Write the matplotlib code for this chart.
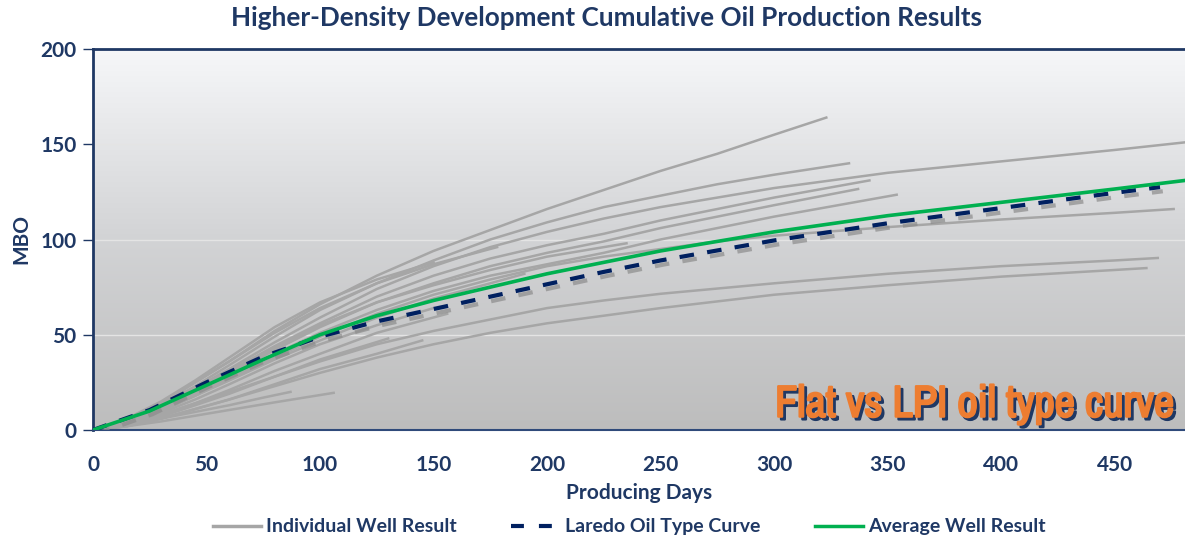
import numpy as np
import matplotlib
matplotlib.use("Agg")
import matplotlib.pyplot as plt
import matplotlib.patheffects as pe
from matplotlib.lines import Line2D
from matplotlib import font_manager

plt.rcParams['font.family'] = ['Lato', 'DejaVu Sans']

# ---- data (producing days -> cumulative MBO) ----
well_days = [
    [0, 15, 30, 45, 60, 80, 100, 125, 150, 175, 200, 225, 250, 275, 300, 323],
    [0, 15, 30, 45, 60, 80, 100, 125, 150, 175, 200, 225, 250, 275, 300, 333],
    [0, 15, 30, 45, 60, 80, 100, 125, 150, 175, 200, 225, 250, 275, 300, 350, 400, 450, 481],
    [0, 15, 30, 45, 60, 80, 100, 125, 150, 175, 200, 225, 250, 275, 300, 342],
    [0, 15, 30, 45, 60, 80, 100, 125, 150, 175, 200, 225, 250, 275, 300, 337],
    [0, 15, 30, 45, 60, 80, 100, 125, 150, 175, 200, 225, 250, 275, 300, 354],
    [0, 15, 30, 45, 60, 80, 100, 125, 150, 175, 200, 225, 250, 275, 300, 350, 400, 450, 476],
    [0, 15, 30, 45, 60, 80, 100, 125, 150],
    [0, 15, 30, 45, 60, 80, 100, 125, 150, 178],
    [0, 15, 30, 45, 60, 80, 100, 125, 150, 175, 200, 235],
    [0, 15, 30, 45, 60, 80, 100, 125, 156],
    [0, 15, 30, 45, 60, 80, 100, 125, 145],
    [0, 15, 30, 45, 60, 80, 100, 125, 150],
    [0, 15, 30, 45, 60, 80, 100, 130],
    [0, 15, 30, 45, 60, 80, 100, 125, 150, 175, 190],
    [0, 15, 30, 45, 60, 80, 100, 125, 150, 175, 200, 225, 250, 300, 350, 400, 450, 469],
    [0, 15, 30, 45, 60, 80, 100, 125, 150, 175, 200, 225, 250, 300, 350, 400, 450, 464],
    [0, 15, 30, 45, 60, 75, 87],
    [0, 15, 30, 45, 60, 80, 106],
]
well_mbo = [
    [0, 5, 14, 25, 36, 52, 66, 81, 94, 105, 116, 126, 136, 145, 155, 164],
    [0, 5, 13, 23, 34, 49, 63, 77, 89, 100, 109, 117, 123, 129, 134, 140],
    [0, 5, 13, 22, 32, 46, 59, 74, 86, 96, 104, 111, 117, 122, 127, 135, 141, 147, 151],
    [0, 5, 12, 21, 31, 44, 56, 70, 81, 90, 97, 103, 110, 116, 122, 131],
    [0, 4, 11, 20, 29, 42, 54, 67, 77, 86, 93, 99, 106, 112, 118, 126.5],
    [0, 4, 11, 19, 28, 40, 51, 63, 73, 81, 87, 93, 100, 106, 112, 123.5],
    [0, 4, 10, 18, 27, 38, 49, 61, 71, 79, 86, 91, 95, 99, 102, 106.5, 110.5, 114, 116],
    [0, 6, 15, 26, 38, 54, 67, 79, 88],
    [0, 5, 14, 25, 36, 51, 64, 77, 87, 96],
    [0, 4, 11, 20, 30, 43, 55, 67, 76, 84, 91, 98],
    [0, 3, 8, 14, 21, 31, 40, 51, 61],
    [0, 2, 6, 11, 16, 24, 32, 40, 47],
    [0, 3, 9, 16, 24, 35, 45, 55, 64],
    [0, 3, 7, 13, 19, 28, 37, 48],
    [0, 4, 10, 18, 26, 37, 47, 59, 69, 77, 82],
    [0, 3, 8, 14, 20, 28, 36, 45, 52, 58, 64, 68, 71.5, 77, 82, 86, 89, 90.3],
    [0, 2, 6, 11, 16, 23, 30, 38, 45, 51, 56, 60, 64, 71, 76, 80.5, 84, 85],
    [0, 2.5, 6, 9.5, 13, 17, 20],
    [0, 2, 4.5, 7.5, 10.5, 14.5, 19.5],
]

type_days = [0, 25, 50, 75, 100, 125, 150, 175, 200, 225, 250, 300, 350, 400, 450, 470]
type_mbo = [0, 10.5, 25, 38.5, 49, 57, 63.5, 70, 76.5, 83, 89, 99.5, 108.5, 116.5, 124.5, 127.5]

avg_days = [0, 25, 50, 75, 100, 125, 150, 175, 200, 225, 250, 300, 350, 400, 450, 481]
avg_mbo = [0, 10, 23.5, 37, 50, 60, 68, 75, 82, 88, 94, 104, 112.5, 119.5, 126.5, 131]

x_ticks = [0, 50, 100, 150, 200, 250, 300, 350, 400, 450]
y_ticks = [0, 50, 100, 150, 200]

navy = '#1F3864'
gray = '#A6A6A6'
green = '#00B050'
dash_navy = '#002060'
orange = '#ED7D31'

# pick a condensed face for the callout if one is installed
installed = sorted({f.name for f in font_manager.fontManager.ttflist})
narrow = [n for n in installed if 'Narrow' in n or 'Condensed' in n]
callout_family = narrow[:1] + ['Liberation Sans', 'DejaVu Sans']
callout_size = 32 if narrow else 26

fig = plt.figure(figsize=(11.85, 5.42), dpi=100)
ax = fig.add_axes([93 / 1185, 112 / 542, 1092 / 1185, 381 / 542])

# gradient background
grad = np.linspace(0, 1, 256).reshape(-1, 1)
cmap = matplotlib.colors.LinearSegmentedColormap.from_list(
    'bg', ['#BDBDBD', '#D2D3D5', '#F6F7F9'])
ax.imshow(grad, cmap=cmap, aspect='auto', extent=[0, 1, 0, 1],
          transform=ax.transAxes, origin='lower', zorder=0)

for y in y_ticks[1:-1]:
    ax.axhline(y, color='#E4E4E4', lw=1.0, zorder=1)

for d, m in zip(well_days, well_mbo):
    ax.plot(d, m, color=gray, lw=1.8, zorder=2, solid_joinstyle='round')

ax.plot(type_days, type_mbo, color=dash_navy, lw=3.0, dashes=(3.5, 3.2), zorder=3,
        path_effects=[pe.SimpleLineShadow(offset=(2, -3), shadow_color='#8C8C8C',
                                          alpha=0.7), pe.Normal()])
ax.plot(avg_days, avg_mbo, color=green, lw=2.6, zorder=4)

ax.set_xlim(0, 481)
ax.set_ylim(0, 200)
ax.set_xticks(x_ticks)
ax.set_yticks(y_ticks)
ax.tick_params(axis='x', length=0, pad=18, labelsize=15, labelcolor=navy)
ax.tick_params(axis='y', length=7, width=1, color=navy, pad=5, labelsize=15,
               labelcolor=navy)
for lab in ax.get_xticklabels() + ax.get_yticklabels():
    lab.set_fontweight('bold')

for side in ['left', 'top']:
    ax.spines[side].set_color(navy)
    ax.spines[side].set_linewidth(2)
ax.spines['bottom'].set_color('#2F4A7A')
ax.spines['bottom'].set_linewidth(1.5)
ax.spines['right'].set_visible(False)

ax.set_xlabel('Producing Days', fontsize=15, fontweight='bold', color=navy,
              labelpad=6)
ax.set_ylabel('MBO', fontsize=15, fontweight='bold', color=navy, labelpad=6)

fig.text(0.512, 0.967, 'Higher-Density Development Cumulative Oil Production Results',
         ha='center', va='center', fontsize=18.8, fontweight='bold', color=navy)

# callout with a solid navy drop shadow; the stroke thickens the glyphs
ax.text(0.99, 0.035, 'Flat vs LPI oil type curve', transform=ax.transAxes,
        ha='right', va='baseline', fontsize=callout_size, fontweight='bold',
        color=orange, family=callout_family,
        path_effects=[pe.Stroke(offset=(2, -2), linewidth=1.6, foreground=navy),
                      pe.SimplePatchShadow(offset=(2, -2), shadow_rgbFace=navy, alpha=1.0),
                      pe.Stroke(linewidth=1.6, foreground=orange),
                      pe.Normal()], zorder=6)

handles = [Line2D([], [], color=gray, lw=2.5),
           Line2D([], [], color=dash_navy, lw=3, dashes=(3.1, 3.6)),
           Line2D([], [], color=green, lw=2.5)]
labels = ['Individual Well Result', 'Laredo Oil Type Curve', 'Average Well Result']
leg = fig.legend(handles, labels, loc='center', bbox_to_anchor=(0.531, 0.028),
                 ncol=3, frameon=False, handlelength=2.5, handletextpad=0.25,
                 columnspacing=2.8, prop={'weight': 'bold', 'size': 14})
for t in leg.get_texts():
    t.set_color(navy)

fig.savefig('out.png', dpi=100)
